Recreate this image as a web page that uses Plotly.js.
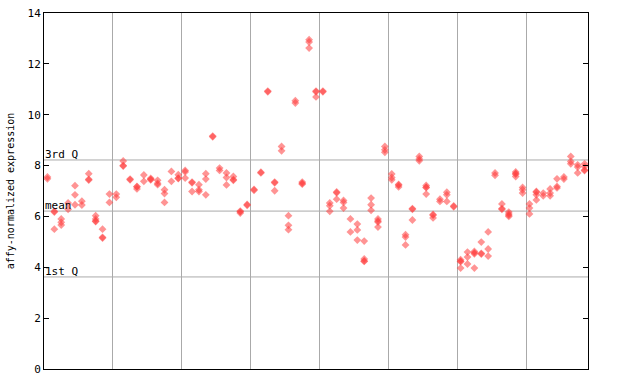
<!DOCTYPE html>
<html>
<head>
<meta charset="utf-8">
<script src="https://cdn.plot.ly/plotly-3.0.1.min.js"></script>
<style>html,body{margin:0;padding:0;background:#fff;}#chart{width:640px;height:384px;}</style>
</head>
<body>
<div id="chart"></div>
<script>
// replicate expression values per sample (79 samples, left to right)
const expression = [
  [7.55, 7.48], [6.2, 6.17, 5.5], [5.9, 5.77, 5.66], [6.53, 6.28], [7.21, 6.85, 6.46],
  [6.6, 6.45], [7.68, 7.46, 7.43], [6.03, 5.9, 5.82, 5.8], [5.5, 5.18, 5.15], [6.88, 6.55],
  [6.88, 6.75], [8.18, 8.0, 7.98], [7.47, 7.44], [7.18, 7.16, 7.08], [7.63, 7.38],
  [7.5, 7.46, 7.44], [7.42, 7.3, 7.25], [7.05, 6.9, 6.55], [7.77, 7.38], [7.64, 7.51, 7.49],
  [7.81, 7.75, 7.51], [7.35, 7.32, 6.98], [7.25, 7.05, 6.98], [7.68, 7.47, 6.85], [9.16, 9.13],
  [7.9, 7.81], [7.71, 7.53, 7.24], [7.57, 7.45, 7.42], [6.21, 6.18, 6.13], [6.47, 6.44],
  [7.06, 7.03], [7.74, 7.71], [10.93, 10.9], [7.35, 7.32, 7.01], [8.75, 8.58],
  [6.03, 5.65, 5.48], [10.55, 10.46], [7.35, 7.3, 7.27], [12.95, 12.86, 12.62], [10.93, 10.9, 10.7],
  [10.93, 10.9], [6.53, 6.42, 6.2], [6.96, 6.93, 6.68], [6.63, 6.55, 6.33], [5.9, 5.39],
  [5.7, 5.47, 5.07], [5.03, 4.33, 4.25, 4.23], [6.72, 6.46, 6.24], [5.9, 5.82, 5.78, 5.58], [8.75, 8.62, 8.52],
  [7.67, 7.53, 7.44], [7.26, 7.23, 7.16], [5.28, 5.19, 4.88], [6.31, 6.28, 5.86], [8.36, 8.26, 8.19],
  [7.22, 7.15, 7.13, 6.88], [6.08, 6.05, 5.94], [6.68, 6.59], [6.95, 6.85, 6.59], [6.41, 6.38],
  [4.3, 4.24, 4.22, 3.97], [4.6, 4.4, 4.13], [4.62, 4.57, 4.53, 3.97], [4.99, 4.55, 4.52], [5.39, 4.72, 4.44],
  [7.71, 7.62], [6.49, 6.31, 6.28], [6.17, 6.1, 6.05, 6.0], [7.75, 7.69, 7.66, 7.57], [7.14, 7.05, 6.92],
  [6.49, 6.33, 6.1], [6.98, 6.95, 6.85, 6.65], [6.92, 6.81], [7.08, 6.92, 6.81], [7.48, 7.18, 7.12],
  [7.55, 7.47], [8.36, 8.16, 8.07], [8.03, 7.94, 7.71], [8.07, 7.96, 7.83, 7.8]
];
const groupBoundaries = [10, 20, 30, 40, 50, 60, 70];
const quartileLabels = ["3rd Q", "mean", "1st Q"];
const quartileValues = [8.22, 6.21, 3.62];
const yTicks = [0, 2, 4, 6, 8, 10, 12, 14];

const xs = [], ys = [];
expression.forEach((vals, i) => {
  vals.forEach(v => { xs.push(i + 0.5); ys.push(v); });
});

const mono = "DejaVu Sans Mono, monospace";
const trace = {
  x: xs, y: ys, type: "scatter", mode: "markers",
  marker: { symbol: "diamond", size: 6, color: "rgba(255,60,60,0.55)", line: { width: 0 } },
  hoverinfo: "y"
};

const shapes = quartileValues.map(v => ({
  type: "line", xref: "paper", x0: 0, x1: 1, yref: "y", y0: v, y1: v,
  line: { color: "#aaaaaa", width: 1 }, layer: "below"
}));
const annotations = quartileValues.map((v, k) => ({
  xref: "paper", x: 0, xanchor: "left", yref: "y", y: v, yanchor: "bottom",
  text: quartileLabels[k], showarrow: false, yshift: -3, xshift: -1,
  font: { family: mono, size: 11, color: "#000" }
}));

const layout = {
  width: 640, height: 384,
  margin: { l: 44, r: 52, t: 13, b: 15, pad: 0 },
  paper_bgcolor: "#fff", plot_bgcolor: "#fff",
  showlegend: false,
  xaxis: {
    range: [0, expression.length], tickvals: groupBoundaries, showticklabels: false,
    ticks: "", showgrid: true, gridcolor: "#aaaaaa", gridwidth: 1,
    zeroline: false, showline: true, mirror: true, linecolor: "#000", linewidth: 1
  },
  yaxis: {
    range: [0, 14], tickvals: yTicks, ticks: "inside", ticklen: 5, tickcolor: "#000",
    showgrid: false, zeroline: false, showline: true, mirror: "ticks",
    linecolor: "#000", linewidth: 1,
    tickfont: { family: mono, size: 11, color: "#000" },
    title: { text: "affy-normalized expression", font: { family: mono, size: 10, color: "#000" }, standoff: 11 }
  },
  shapes: shapes,
  annotations: annotations
};

Plotly.newPlot("chart", [trace], layout, { staticPlot: true, displayModeBar: false });
</script>
</body>
</html>
